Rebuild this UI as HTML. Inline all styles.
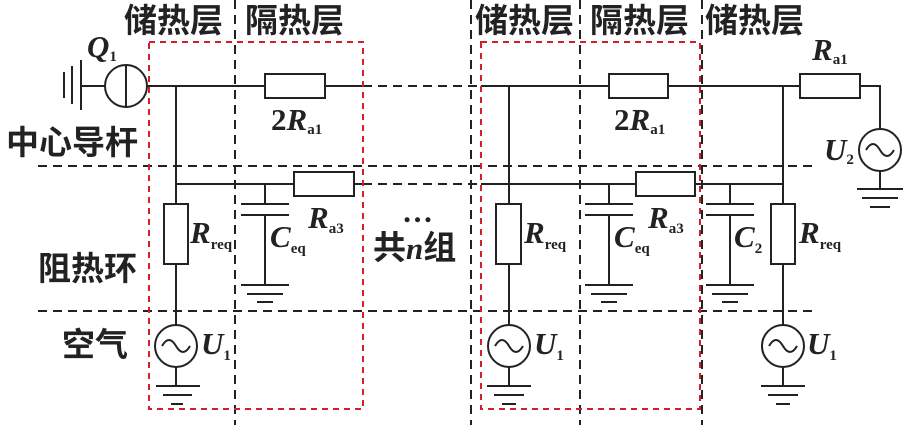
<!DOCTYPE html>
<html><head><meta charset="utf-8"><style>
html,body{margin:0;padding:0;background:#fff;width:904px;height:425px;overflow:hidden}
svg{display:block}
.cn{font-family:"Liberation Sans","Noto Sans CJK SC",sans-serif;font-size:33px;font-weight:bold;fill:#222}
.it{font-family:"Liberation Serif",serif;font-style:italic;font-size:31px;fill:#222;font-weight:bold}
.rm{font-family:"Liberation Serif",serif;font-size:31px;fill:#222;font-weight:bold}
.sb{font-family:"Liberation Serif",serif;font-size:15px;fill:#222;font-style:normal;font-weight:bold}
</style></head><body>
<svg width="904" height="425" viewBox="0 0 904 425" xmlns="http://www.w3.org/2000/svg">
<g stroke="#222" stroke-width="2" fill="none">
<g stroke-dasharray="9,6">
<line x1="235" y1="0" x2="235" y2="425"/>
<line x1="471" y1="0" x2="471" y2="425"/>
<line x1="580" y1="0" x2="580" y2="425"/>
<line x1="702" y1="0" x2="702" y2="425"/>
<line x1="38" y1="166" x2="813" y2="166"/>
<line x1="38" y1="311" x2="813" y2="311"/>
<line x1="363" y1="86" x2="481" y2="86"/>
<line x1="363" y1="184" x2="481" y2="184"/>
</g>
<line x1="147" y1="86" x2="265" y2="86"/>
<line x1="325" y1="86" x2="363" y2="86"/>
<rect x="265" y="74" width="60" height="24" fill="#fff"/>
<circle cx="126" cy="86" r="21"/>
<line x1="126" y1="65" x2="126" y2="107"/>
<line x1="81" y1="86" x2="105" y2="86"/>
<line x1="81" y1="60" x2="81" y2="110"/>
<line x1="72" y1="66" x2="72" y2="104"/>
<line x1="64" y1="72" x2="64" y2="98"/>
<line x1="176" y1="86" x2="176" y2="325"/>
<rect x="164" y="204" width="24" height="60" fill="#fff"/>
<circle cx="176" cy="346" r="21" fill="#fff"/>
<path d="M162 346 q7 -12 14 0 t14 0"/>
<line x1="176" y1="367" x2="176" y2="386"/>
<line x1="156" y1="386" x2="200" y2="386"/>
<line x1="163" y1="395" x2="192" y2="395"/>
<line x1="171" y1="404" x2="183" y2="404"/>
<line x1="176" y1="184" x2="294" y2="184"/>
<line x1="265" y1="184" x2="265" y2="204"/>
<line x1="241" y1="204" x2="289" y2="204"/>
<line x1="241" y1="215" x2="289" y2="215"/>
<line x1="265" y1="215" x2="265" y2="285"/>
<line x1="241" y1="285" x2="289" y2="285"/>
<line x1="247" y1="294" x2="283" y2="294"/>
<line x1="257" y1="302" x2="273" y2="302"/>
<rect x="294" y="172" width="60" height="24" fill="#fff"/>
<line x1="354" y1="184" x2="363" y2="184"/>
<line x1="481" y1="86" x2="609" y2="86"/>
<line x1="668" y1="86" x2="800" y2="86"/>
<rect x="609" y="74" width="59" height="24" fill="#fff"/>
<rect x="800" y="74" width="60" height="24" fill="#fff"/>
<polyline points="860,86 880,86 880,129"/>
<circle cx="880" cy="150" r="21" fill="#fff"/>
<path d="M866 150 q7 -12 14 0 t14 0"/>
<line x1="880" y1="171" x2="880" y2="189"/>
<line x1="857" y1="189" x2="903" y2="189"/>
<line x1="862" y1="198" x2="898" y2="198"/>
<line x1="870" y1="207" x2="890" y2="207"/>
<line x1="509" y1="86" x2="509" y2="325"/>
<rect x="496" y="204" width="25" height="60" fill="#fff"/>
<circle cx="509" cy="346" r="21" fill="#fff"/>
<path d="M495 346 q7 -12 14 0 t14 0"/>
<line x1="509" y1="367" x2="509" y2="386"/>
<line x1="487" y1="386" x2="531" y2="386"/>
<line x1="494" y1="395" x2="524" y2="395"/>
<line x1="502" y1="404" x2="516" y2="404"/>
<line x1="481" y1="184" x2="636" y2="184"/>
<line x1="695" y1="184" x2="783" y2="184"/>
<rect x="636" y="172" width="59" height="24" fill="#fff"/>
<line x1="609" y1="184" x2="609" y2="204"/>
<line x1="585" y1="204" x2="633" y2="204"/>
<line x1="585" y1="215" x2="633" y2="215"/>
<line x1="609" y1="215" x2="609" y2="285"/>
<line x1="585" y1="285" x2="633" y2="285"/>
<line x1="591" y1="294" x2="627" y2="294"/>
<line x1="601" y1="302" x2="617" y2="302"/>
<line x1="730" y1="184" x2="730" y2="204"/>
<line x1="706" y1="204" x2="754" y2="204"/>
<line x1="706" y1="215" x2="754" y2="215"/>
<line x1="730" y1="215" x2="730" y2="285"/>
<line x1="706" y1="285" x2="754" y2="285"/>
<line x1="712" y1="294" x2="748" y2="294"/>
<line x1="722" y1="302" x2="738" y2="302"/>
<line x1="783" y1="86" x2="783" y2="325"/>
<rect x="771" y="204" width="24" height="60" fill="#fff"/>
<circle cx="783" cy="346" r="21" fill="#fff"/>
<path d="M769 346 q7 -12 14 0 t14 0"/>
<line x1="783" y1="367" x2="783" y2="386"/>
<line x1="761" y1="386" x2="805" y2="386"/>
<line x1="768" y1="395" x2="798" y2="395"/>
<line x1="776" y1="404" x2="790" y2="404"/>
<g stroke="#d0202a" stroke-dasharray="6,5">
<rect x="149" y="42" width="214" height="367"/>
<rect x="481" y="42" width="219" height="367"/>
</g>
</g>
<text class="cn" x="124" y="32">储热层</text>
<text class="cn" x="245" y="32">隔热层</text>
<text class="cn" x="475" y="32">储热层</text>
<text class="cn" x="590" y="32">隔热层</text>
<text class="cn" x="705" y="32">储热层</text>
<text class="cn" x="6" y="154">中心导杆</text>
<text class="cn" x="38" y="280">阻热环</text>
<text class="cn" x="62" y="356">空气</text>
<text class="cn" x="373" y="259">共<tspan class="it">n</tspan>组</text>
<text class="rm" x="402" y="222" font-size="22">…</text>
<text class="it" x="87" y="57">Q<tspan class="sb" dy="4">1</tspan></text>
<text class="rm" x="271" y="130">2<tspan class="it">R</tspan><tspan class="sb" dy="4">a1</tspan></text>
<text class="rm" x="614" y="130">2<tspan class="it">R</tspan><tspan class="sb" dy="4">a1</tspan></text>
<text class="it" x="812" y="60">R<tspan class="sb" dy="4">a1</tspan></text>
<text class="it" x="824" y="160">U<tspan class="sb" dy="4" font-size="18">2</tspan></text>
<text class="it" x="190" y="243">R<tspan class="sb" dy="6">req</tspan></text>
<text class="it" x="524" y="243">R<tspan class="sb" dy="6">req</tspan></text>
<text class="it" x="799" y="243">R<tspan class="sb" dy="6">req</tspan></text>
<text class="it" x="270" y="247">C<tspan class="sb" dy="6">eq</tspan></text>
<text class="it" x="614" y="247">C<tspan class="sb" dy="6">eq</tspan></text>
<text class="it" x="734" y="247">C<tspan class="sb" dy="6" font-size="18">2</tspan></text>
<text class="it" x="308" y="228">R<tspan class="sb" dy="5">a3</tspan></text>
<text class="it" x="648" y="228">R<tspan class="sb" dy="5">a3</tspan></text>
<text class="it" x="201" y="354">U<tspan class="sb" dy="6" font-size="18">1</tspan></text>
<text class="it" x="534" y="354">U<tspan class="sb" dy="6" font-size="18">1</tspan></text>
<text class="it" x="807" y="354">U<tspan class="sb" dy="6" font-size="18">1</tspan></text>
</svg>
</body></html>
